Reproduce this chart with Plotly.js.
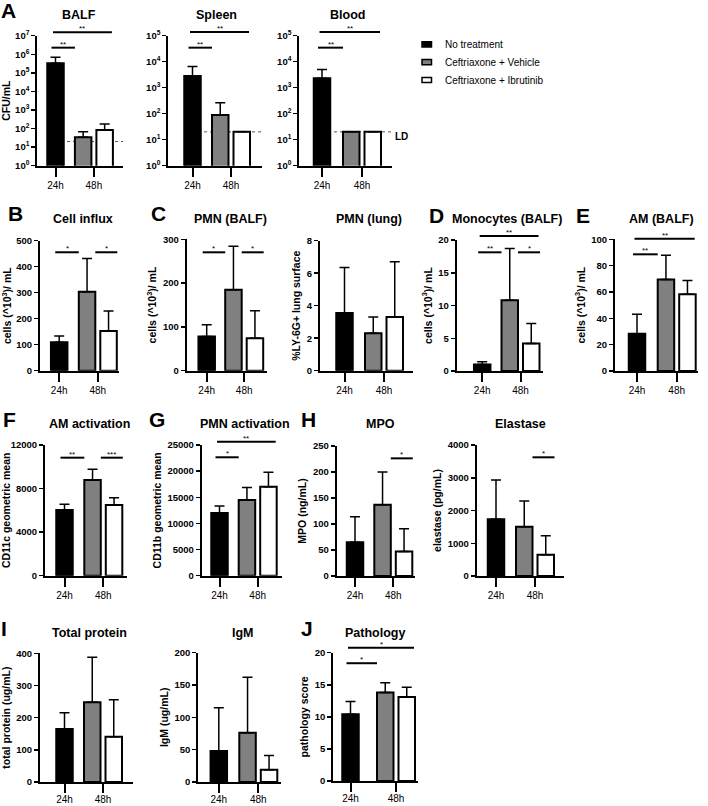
<!DOCTYPE html>
<html><head><meta charset="utf-8">
<script src="https://cdn.plot.ly/plotly-3.0.1.min.js"></script>
<style>html,body{margin:0;padding:0;background:#fff}#chart{width:708px;height:806px}</style>
</head><body><div id="chart"></div>
<script>
// ---------------- DATA ----------------
const groups = ['No treatment', 'Ceftriaxone + Vehicle', 'Ceftriaxone + Ibrutinib'];
const groupTimeIndex = [0, 1, 1];
const timeLabels = ['24h', '48h'];
const detectionLimit = 20;

const cfuBalf = [330000, 34, 83];
const cfuBalfErr = [370000, 33, 92];
const cfuSpleen = [2800, 90, 20];
const cfuSpleenErr = [3800, 175, 0];
const cfuBlood = [2300, 20, 20];
const cfuBloodErr = [2700, 0, 0];
const cellInflux = [109, 304, 153];
const cellInfluxErr = [24, 128, 77];
const pmnBalf = [78, 185, 74];
const pmnBalfErr = [27, 99, 63];
const pmnLung = [3.55, 2.3, 3.3];
const pmnLungErr = [2.8, 1.0, 3.4];
const monocytes = [1.0, 10.8, 4.2];
const monocytesErr = [0.4, 7.9, 3.05];
const amBalf = [28.3, 69.5, 58.2];
const amBalfErr = [14.7, 18.3, 10.5];
const amActivation = [6030, 8790, 6500];
const amActivationErr = [520, 990, 650];
const pmnActivation = [12000, 14500, 17000];
const pmnActivationErr = [1350, 2350, 2800];
const mpo = [65, 137, 47];
const mpoErr = [49, 63, 44];
const elastase = [1730, 1500, 650];
const elastaseErr = [1200, 790, 580];
const totalProtein = [165, 248, 141];
const totalProteinErr = [50, 140, 115];
const igm = [48, 76, 19];
const igmErr = [67, 86, 22];
const pathology = [10.4, 13.8, 13.1];
const pathologyErr = [2.0, 1.5, 1.5];

const logTickVals = [1, 10, 100, 1000, 10000, 100000, 1000000, 10000000];
const logTickText = ['10<sup>0</sup>','10<sup>1</sup>','10<sup>2</sup>','10<sup>3</sup>','10<sup>4</sup>','10<sup>5</sup>','10<sup>6</sup>','10<sup>7</sup>'];

// significance comparisons: [pair, label]
const sigBalf = [['bg','**'], ['bw','**']];
const sigSpleen = [['bg','**'], ['bw','**']];
const sigBlood = [['bg','**'], ['bw','**']];
const sigInflux = [['bg','*'], ['gw','*']];
const sigPmnBalf = [['bg','*'], ['gw','*']];
const sigMono = [['bg','**'], ['gw','*'], ['bw','**']];
const sigAm = [['bg','**'], ['bw','**']];
const sigAmAct = [['bg','**'], ['gw','***']];
const sigPmnAct = [['bg','*'], ['bw','**']];
const sigMpo = [['gw','*']];
const sigElastase = [['gw','*']];
const sigPathology = [['bg','*'], ['bw','*']];

// ---------------- LAYOUT / STYLE ----------------
const W = 708, H = 806;
const FONT = 'Liberation Sans, Arial, Helvetica, sans-serif';
const barColors = ['#000000', '#808080', '#ffffff'];
const cellsTitle = 'cells (^10<sup>3</sup>)/ mL';

const panels = [
  {title:'BALF', yTitle:'CFU/mL', m:cfuBalf, e:cfuBalfErr, log:true, ymax:7, sig:sigBalf, lv:[0.908,1.026], ld:true,
   L:37.3,R:123,T:35.7,B:165.7,c24:55.5,c48:93.9, tx:79, ty:15},
  {title:'Spleen', yTitle:'', m:cfuSpleen, e:cfuSpleenErr, log:true, ymax:5, sig:sigSpleen, lv:[0.908,1.028], ld:true,
   L:168.3,R:262,T:35.7,B:165.7,c24:192.5,c48:231, tx:217, ty:15},
  {title:'Blood', yTitle:'', m:cfuBlood, e:cfuBloodErr, log:true, ymax:5, sig:sigBlood, lv:[0.908,1.028], ld:true,
   L:299.3,R:392.3,T:35.7,B:165.7,c24:322,c48:362, tx:347.5, ty:15},
  {title:'Cell influx', yTitle:cellsTitle, m:cellInflux, e:cellInfluxErr, ymax:500, dtick:100, sig:sigInflux, lv:[0.911,0.911],
   L:40,R:119,T:240.7,B:370.7,c24:59.2,c48:97.8, tx:83.3, ty:219.3},
  {title:'PMN (BALF)', yTitle:cellsTitle, m:pmnBalf, e:pmnBalfErr, ymax:300, dtick:100, sig:sigPmnBalf, lv:[0.901,0.901],
   L:186.7,R:266.7,T:239.3,B:370.7,c24:206.7,c48:244.2, tx:230, ty:219.3},
  {title:'PMN (lung)', yTitle:'%LY-6G+ lung surface', m:pmnLung, e:pmnLungErr, ymax:8, dtick:2, sig:[], lv:[],
   L:320,R:413.3,T:240.7,B:370.7,c24:344.5,c48:384, tx:369, ty:219.3},
  {title:'Monocytes (BALF)', yTitle:cellsTitle, m:monocytes, e:monocytesErr, ymax:20, dtick:5, sig:sigMono, lv:[0.906,0.906,1.031],
   L:456.7,R:542.7,T:240,B:371,c24:482.2,c48:520.5, tx:507, ty:219.3},
  {title:'AM (BALF)', yTitle:cellsTitle, m:amBalf, e:amBalfErr, ymax:100, dtick:20, sig:sigAm, lv:[0.886,1.005],
   L:615,R:698.3,T:239.3,B:371,c24:637,c48:676.7, tx:661.7, ty:219.3},
  {title:'AM activation', yTitle:'CD11c geometric mean', m:amActivation, e:amActivationErr, ymax:12000, dtick:4000, sig:sigAmAct, lv:[0.903,0.903],
   L:45,R:126.7,T:445,B:575.7,c24:64.5,c48:103.3, tx:89, ty:424},
  {title:'PMN activation', yTitle:'CD11b geometric mean', m:pmnActivation, e:pmnActivationErr, ymax:25000, dtick:5000, sig:sigPmnAct, lv:[0.906,1.025],
   L:201.7,R:281.7,T:445,B:575.7,c24:219.5,c48:257.7, tx:245, ty:424},
  {title:'MPO', yTitle:'MPO (ng/mL)', m:mpo, e:mpoErr, ymax:250, dtick:50, sig:sigMpo, lv:[0.905],
   L:336.7,R:415,T:446,B:576,c24:355,c48:393.3, tx:380, ty:424},
  {title:'Elastase', yTitle:'elastase (pg/mL)', m:elastase, e:elastaseErr, ymax:4000, dtick:1000, sig:sigElastase, lv:[0.906],
   L:476.7,R:564,T:445,B:576,c24:496,c48:535, tx:520.7, ty:424},
  {title:'Total protein', yTitle:'total protein (ug/mL)', m:totalProtein, e:totalProteinErr, ymax:400, dtick:100, sig:[], lv:[], bottom:true,
   L:40,R:133.3,T:653.3,B:782,c24:64.5,c48:103, tx:89.3, ty:632.7},
  {title:'IgM', yTitle:'IgM (ug/mL)', m:igm, e:igmErr, ymax:200, dtick:50, sig:[], lv:[], bottom:true,
   L:198.3,R:280.7,T:652.7,B:782,c24:218.8,c48:258.3, tx:243.3, ty:632.7},
  {title:'Pathology', yTitle:'pathology score', m:pathology, e:pathologyErr, ymax:20, dtick:5, sig:sigPathology, lv:[0.918,1.039], bottom:true,
   L:333.3,R:418.3,T:652.7,B:781,c24:350.5,c48:396, tx:375, ty:632.7}
];

const letters = [['A',8.5,10.5],['B',15,214],['C',158,214],['D',436,216],['E',583,216],
                 ['F',9,419],['G',157,419],['H',308,419],['I',4,628],['J',307,628]];

const traces = [];
const shapes = [];
const annotations = [];
const layout = {
  width: W, height: H, margin:{l:0,r:0,t:0,b:0}, paper_bgcolor:'#fff', plot_bgcolor:'rgba(0,0,0,0)',
  showlegend:false, barmode:'overlay', font:{family:FONT, color:'#000'}
};

const py2y = v => 1 - v / H;

panels.forEach((p, i) => {
  const n = i + 1;
  const xid = n === 1 ? 'x' : 'x' + n;
  const yid = n === 1 ? 'y' : 'y' + n;
  const u = p.c48 - p.c24;
  const bw = 16.5 / u;
  const offsets = [-bw / 2, -19 / u, 2.5 / u];

  for (let g = 0; g < 3; g++) {
    traces.push({
      type:'bar', name: groups[g], x:[groupTimeIndex[g]], y:[p.m[g]],
      width:[bw], offset:[offsets[g]], xaxis:xid, yaxis:yid,
      marker:{color:barColors[g], line:{color:'#000', width:2}},
      error_y:{type:'data', symmetric:false, array:[p.e[g]], arrayminus:[0], color:'#000', thickness:1.5, width:5},
      hoverinfo:'skip', showlegend:false
    });
  }

  const xa = {
    domain:[p.L / W, p.R / W], range:[(p.L - p.c24) / u, (p.R - p.c24) / u], anchor: yid,
    tickmode:'array', tickvals:[0, 1], ticktext: timeLabels, ticks:'outside', ticklen:9, tickwidth:2, tickcolor:'#000',
    showline:true, linewidth:2, linecolor:'#000', showgrid:false, zeroline:false, fixedrange:true,
    tickfont:{family:FONT, size:10, color:'#000'}
  };
  if (p.bottom) xa.ticklabelstandoff = -2;
  layout['xaxis' + (n === 1 ? '' : n)] = xa;

  const ya = {
    domain:[1 - p.B / H, 1 - p.T / H], anchor: xid,
    ticks:'outside', ticklen:4, tickwidth:1.5, tickcolor:'#000',
    showline:true, linewidth:2, linecolor:'#000', showgrid:false, zeroline:false, fixedrange:true,
    tickfont:{family:FONT, size:9.5, color:'#000', weight:'bold'},
    title:{text:p.yTitle, font:{family:FONT, size:10.5, color:'#000', weight:'bold'}, standoff:4}
  };
  if (p.log) {
    ya.type = 'log'; ya.range = [0, p.ymax];
    ya.tickmode = 'array';
    ya.tickvals = logTickVals.slice(0, p.ymax + 1);
    ya.ticktext = logTickText.slice(0, p.ymax + 1);
  } else {
    ya.range = [0, p.ymax]; ya.tickmode = 'linear'; ya.tick0 = 0; ya.dtick = p.dtick;
    ya.tickformat = 'd'; ya.exponentformat = 'none';
  }
  layout['yaxis' + (n === 1 ? '' : n)] = ya;

  // panel title
  annotations.push({xref:'paper', yref:'paper', x:p.tx / W, y:py2y(p.ty), text:p.title, showarrow:false,
    xanchor:'center', yanchor:'middle', font:{family:FONT, size:12.5, color:'#000', weight:'bold'}});

  // detection limit
  if (p.ld) {
    shapes.push({type:'line', xref:xid, yref:yid, x0:0.3, x1:(p.R - p.c24) / u,
      y0:detectionLimit, y1:detectionLimit, layer:'below',
      line:{color:'#555', width:1, dash:'dot'}});
  }

  // significance bars
  p.sig.forEach((s, k) => {
    let a, b;
    if (s[0] === 'bg') { a = p.c24 - 4; b = p.c48 - 19; }
    else if (s[0] === 'gw') { a = p.c48 - 2.5; b = p.c48 + 19.5; }
    else { a = p.c24 - 2.5; b = p.c48 + 18; }
    const ypx = p.B - p.lv[k] * (p.B - p.T);
    shapes.push({type:'line', xref:'paper', yref:'paper', x0:a / W, x1:b / W, y0:py2y(ypx), y1:py2y(ypx),
      line:{color:'#000', width:2}});
    annotations.push({xref:'paper', yref:'paper', x:(a + b) / 2 / W, y:py2y(ypx), text:s[1], showarrow:false,
      xanchor:'center', yanchor:'bottom', yshift:-3, font:{family:FONT, size:8, color:'#000'}});
  });
});

// LD label
annotations.push({xref:'paper', yref:'paper', x:401 / W, y:py2y(136.7), text:'LD', showarrow:false,
  xanchor:'center', yanchor:'middle', font:{family:FONT, size:10, color:'#000', weight:'bold'}});

// panel letters
letters.forEach(l => annotations.push({xref:'paper', yref:'paper', x:l[1] / W, y:py2y(l[2]), text:l[0], showarrow:false,
  xanchor:'center', yanchor:'middle', font:{family:FONT, size:21, color:'#000', weight:'bold'}}));

// legend (drawn manually)
groups.forEach((g, i) => {
  const cy = 44.3 + 17.85 * i;
  shapes.push({type:'rect', xref:'paper', yref:'paper', x0:422 / W, x1:431.5 / W, y0:py2y(cy + 2.6), y1:py2y(cy - 2.6),
    fillcolor:barColors[i], line:{color:'#000', width:1.5}});
  annotations.push({xref:'paper', yref:'paper', x:443 / W, y:py2y(cy), text:g, showarrow:false,
    xanchor:'left', yanchor:'middle', font:{family:FONT, size:10, color:'#000'}});
});

layout.shapes = shapes;
layout.annotations = annotations;

Plotly.newPlot('chart', traces, layout, {staticPlot:true, displayModeBar:false});
</script>
</body></html>
